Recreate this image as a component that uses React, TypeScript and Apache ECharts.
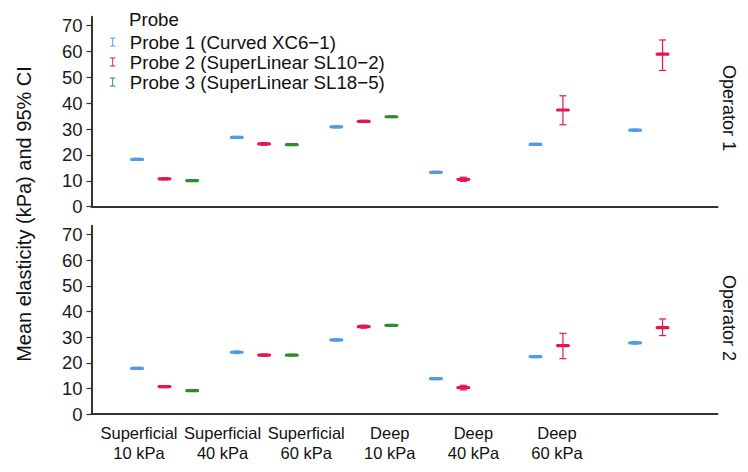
import React, { useEffect, useRef } from "react";
import * as echarts from "echarts";

// ---- data ----
const categories = [
  "Superficial\n10 kPa",
  "Superficial\n40 kPa",
  "Superficial\n60 kPa",
  "Deep\n10 kPa",
  "Deep\n40 kPa",
  "Deep\n60 kPa",
];
const probeNames = [
  "Probe 1 (Curved XC6\u22121)",
  "Probe 2 (SuperLinear SL10\u22122)",
  "Probe 3 (SuperLinear SL18\u22125)",
];
const probeColors = ["#4f9be6", "#e3174b", "#2e8b2e"];
const yTicks = [0, 10, 20, 30, 40, 50, 60, 70];
const operatorLabels = ["Operator 1", "Operator 2"];

// [mean, lower 95% CI, upper 95% CI]
const op1Probe1 = [[18.3, 17.9, 18.7], [26.8, 26.4, 27.2], [30.9, 30.5, 31.3], [13.3, 12.9, 13.7], [24.1, 23.7, 24.5], [29.6, 29.2, 30.0]];
const op1Probe2 = [[10.8, 10.4, 11.2], [24.3, 23.8, 24.8], [33.0, 32.6, 33.4], [10.6, 9.8, 11.4], [37.4, 31.7, 42.9], [59.0, 52.7, 64.5]];
const op1Probe3 = [[10.1, 9.8, 10.4], [24.0, 23.7, 24.3], [34.8, 34.5, 35.1]];
const op2Probe1 = [[17.8, 17.4, 18.2], [24.1, 23.6, 24.6], [28.9, 28.5, 29.3], [13.8, 13.4, 14.2], [22.4, 22.0, 22.8], [27.8, 27.3, 28.3]];
const op2Probe2 = [[10.7, 10.3, 11.1], [23.0, 22.6, 23.4], [34.1, 33.5, 34.7], [10.3, 9.4, 11.2], [26.7, 21.6, 31.5], [33.7, 30.6, 37.1]];
const op2Probe3 = [[9.1, 8.8, 9.4], [23.0, 22.7, 23.3], [34.6, 34.3, 34.9]];

const FONT = "'Liberation Sans', Arial, Helvetica, sans-serif";
const dodge = [-0.275, 0, 0.278];

function makeSeries(name: string, color: string, probeIdx: number, gridIdx: number, values: number[][]) {
  const data = values.map((v, i) => [i + dodge[probeIdx], v[0], v[1], v[2]]);
  return {
    type: "custom",
    name,
    xAxisIndex: gridIdx,
    yAxisIndex: gridIdx,
    itemStyle: { color },
    encode: { x: 0, y: [1, 2, 3] },
    data,
    renderItem: (params: any, api: any) => {
      const x = api.value(0);
      const pm = api.coord([x, api.value(1)]);
      const pl = api.coord([x, api.value(2)]);
      const ph = api.coord([x, api.value(3)]);
      const cap = 3.5;
      const lineStyle = { stroke: color, lineWidth: 1.2 };
      return {
        type: "group",
        children: [
          { type: "line", shape: { x1: pm[0], y1: pl[1], x2: pm[0], y2: ph[1] }, style: lineStyle },
          { type: "line", shape: { x1: pm[0] - cap, y1: pl[1], x2: pm[0] + cap, y2: pl[1] }, style: lineStyle },
          { type: "line", shape: { x1: pm[0] - cap, y1: ph[1], x2: pm[0] + cap, y2: ph[1] }, style: lineStyle },
          { type: "rect", shape: { x: pm[0] - 7, y: pm[1] - 1.6, width: 14, height: 3.2, r: 1.6 }, style: { fill: color } },
        ],
      };
    },
  };
}

const grids = [
  { left: 91.5, top: 16.7, width: 626, height: 190 },
  { left: 91.5, top: 225.7, width: 626, height: 188.3 },
];

export default function App() {
  const ref = useRef<HTMLDivElement>(null);
  useEffect(() => {
    if (!ref.current) return;
    const chart = echarts.init(ref.current, null, { renderer: "svg" });
    const valueX = (gi: number) => ({
      type: "value",
      gridIndex: gi,
      min: -0.733,
      max: 5.552,
      axisLine: { show: true, onZero: false, lineStyle: { color: "#333", width: 2 } },
      axisTick: { show: false },
      axisLabel: { show: false },
      splitLine: { show: false },
    });
    const valueY = (gi: number) => ({
      type: "value",
      gridIndex: gi,
      min: 0,
      max: 73.5,
      interval: 10,
      axisLine: { show: true, onZero: false, lineStyle: { color: "#333", width: 2 } },
      axisTick: { show: true, length: 5, lineStyle: { color: "#333", width: 1.2 }, customValues: yTicks },
      axisLabel: { show: true, color: "#1a1a1a", fontSize: 18.5, fontFamily: FONT, margin: 9, customValues: yTicks },
      splitLine: { show: false },
    });
    const option: any = {
      animation: false,
      textStyle: { fontFamily: FONT },
      title: {
        text: "Probe",
        left: 129,
        top: 10,
        padding: 0,
        textStyle: { fontSize: 18.7, fontWeight: "normal", color: "#111", fontFamily: FONT },
      },
      legend: {
        orient: "vertical",
        left: 110,
        top: 32,
        padding: 0,
        itemGap: 0,
        itemWidth: 6,
        itemHeight: 9,
        data: probeNames.map((n) => ({ name: n, icon: "path://M0,0H6V1H3.5V9H6V10H0V9H2.5V1H0Z" })),
        textStyle: { fontSize: 18.7, lineHeight: 20, color: "#111", fontFamily: FONT, padding: [0, 0, 0, 9] },
      },
      grid: [...grids, { left: 97.2, top: 413, width: 501.6, height: 1 }],
      xAxis: [
        valueX(0),
        valueX(1),
        {
          type: "category",
          gridIndex: 2,
          data: categories,
          boundaryGap: true,
          axisLine: { show: false },
          axisTick: { show: false },
          axisLabel: { show: true, color: "#111", fontSize: 16.5, lineHeight: 20, fontFamily: FONT, margin: 9, interval: 0 },
        },
      ],
      yAxis: [valueY(0), valueY(1), { type: "value", gridIndex: 2, show: false }],
      graphic: [
        {
          type: "text",
          x: 24,
          y: 214,
          rotation: Math.PI / 2,
          style: { text: "Mean elasticity (kPa) and 95% CI", fontSize: 20, fontFamily: FONT, fill: "#111", textAlign: "center", textVerticalAlign: "middle" },
        },
        {
          type: "text",
          x: 729,
          y: 108,
          rotation: -Math.PI / 2,
          style: { text: operatorLabels[0], fontSize: 18, fontFamily: FONT, fill: "#111", textAlign: "center", textVerticalAlign: "middle" },
        },
        {
          type: "text",
          x: 729,
          y: 318,
          rotation: -Math.PI / 2,
          style: { text: operatorLabels[1], fontSize: 18, fontFamily: FONT, fill: "#111", textAlign: "center", textVerticalAlign: "middle" },
        },
      ],
      series: [
        makeSeries(probeNames[0], probeColors[0], 0, 0, op1Probe1),
        makeSeries(probeNames[1], probeColors[1], 1, 0, op1Probe2),
        makeSeries(probeNames[2], probeColors[2], 2, 0, op1Probe3),
        makeSeries(probeNames[0], probeColors[0], 0, 1, op2Probe1),
        makeSeries(probeNames[1], probeColors[1], 1, 1, op2Probe2),
        makeSeries(probeNames[2], probeColors[2], 2, 1, op2Probe3),
      ],
    };
    chart.setOption(option);
    return () => chart.dispose();
  }, []);
  return (
    <div
      ref={ref}
      style={{ position: "fixed", left: 0, top: 0, width: 748, height: 472, background: "#fff" }}
    />
  );
}
